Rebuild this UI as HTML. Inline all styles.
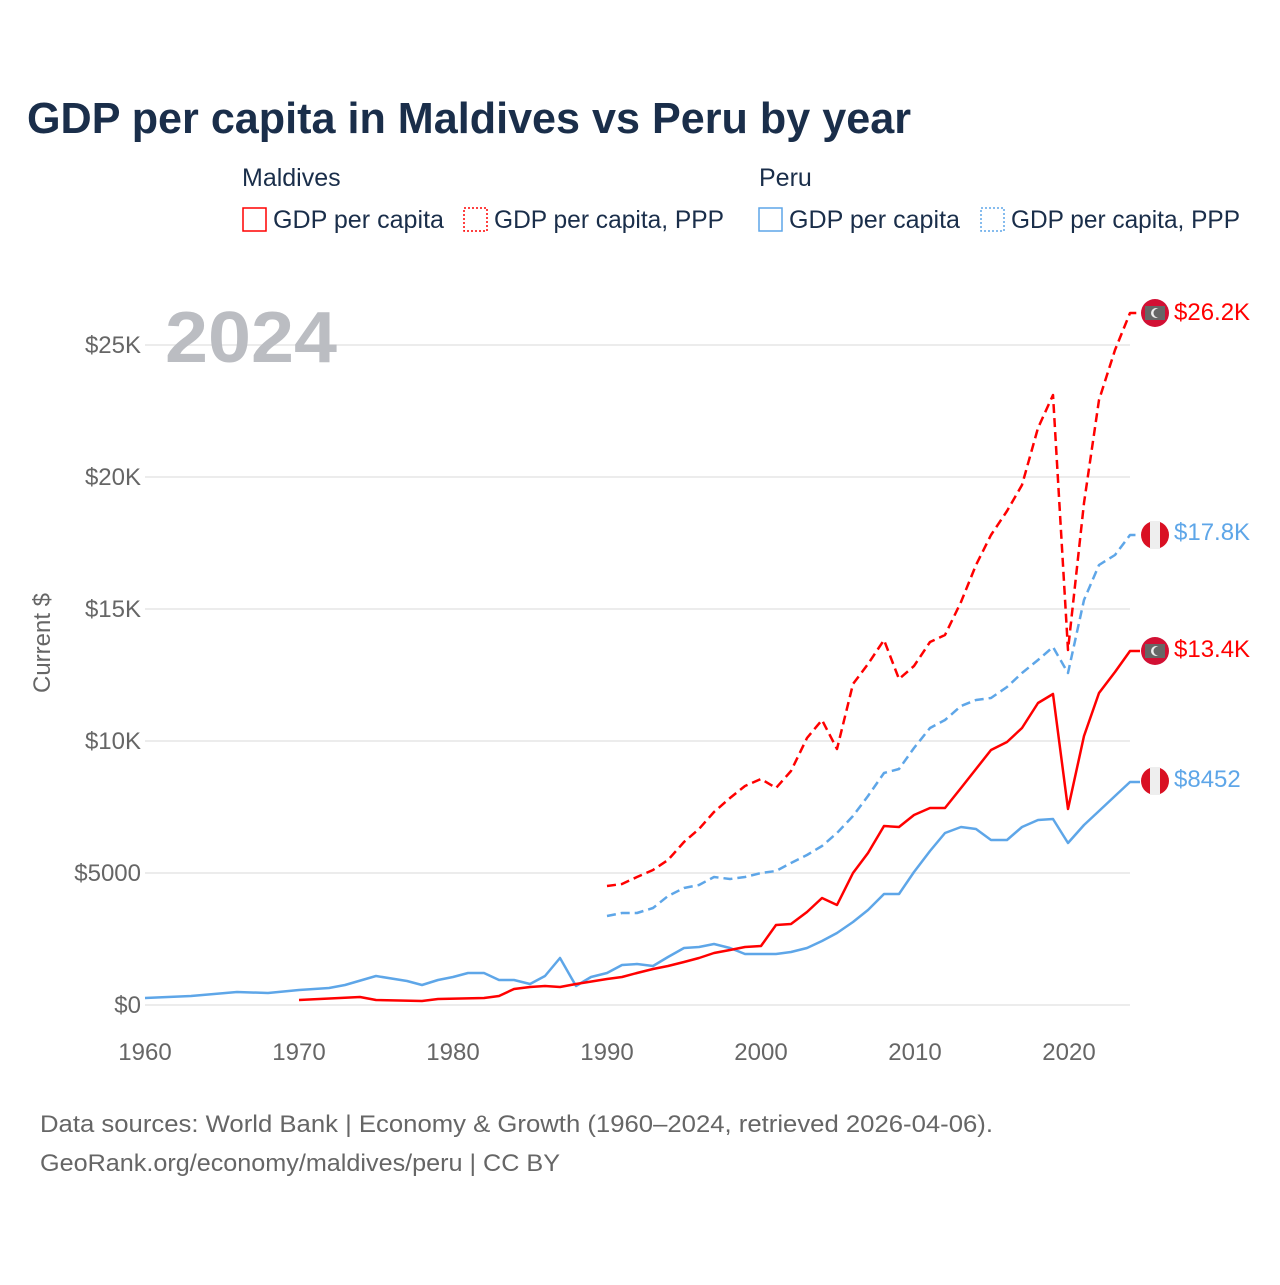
<!DOCTYPE html>
<html><head><meta charset="utf-8"><style>
body{margin:0;background:#fff;font-family:"Liberation Sans",sans-serif}
</style></head><body>
<svg width="1280" height="1280" xmlns="http://www.w3.org/2000/svg" font-family="Liberation Sans, sans-serif">
<rect width="1280" height="1280" fill="#fff"/>
<text x="27" y="133" font-size="44" font-weight="bold" fill="#1a2e4a" textLength="884" lengthAdjust="spacingAndGlyphs">GDP per capita in Maldives vs Peru by year</text>
<g font-size="25" fill="#1a2e4a">
<text x="242" y="186">Maldives</text><text x="759" y="186">Peru</text>
<rect x="243" y="208" width="23" height="23" fill="none" stroke="#f00" stroke-width="1.5"/><text x="273" y="228" textLength="171" lengthAdjust="spacingAndGlyphs">GDP per capita</text>
<rect x="464" y="208" width="23" height="23" fill="none" stroke="#f00" stroke-width="1.5" stroke-dasharray="2,2"/><text x="494" y="228" textLength="230" lengthAdjust="spacingAndGlyphs">GDP per capita, PPP</text>
<rect x="759" y="208" width="23" height="23" fill="none" stroke="#5ea6e8" stroke-width="1.5"/><text x="789" y="228" textLength="171" lengthAdjust="spacingAndGlyphs">GDP per capita</text>
<rect x="981" y="208" width="23" height="23" fill="none" stroke="#5ea6e8" stroke-width="1.5" stroke-dasharray="2,2"/><text x="1011" y="228" textLength="229" lengthAdjust="spacingAndGlyphs">GDP per capita, PPP</text>
</g>
<g stroke="#e6e6e6" stroke-width="1.5">
<line x1="145" x2="1130" y1="345" y2="345"/><line x1="145" x2="1130" y1="477" y2="477"/><line x1="145" x2="1130" y1="609" y2="609"/><line x1="145" x2="1130" y1="741" y2="741"/><line x1="145" x2="1130" y1="873" y2="873"/><line x1="145" x2="1130" y1="1005" y2="1005"/>
</g>
<g font-size="24" fill="#666" text-anchor="end">
<text x="141" y="353">$25K</text><text x="141" y="485">$20K</text><text x="141" y="617">$15K</text><text x="141" y="749">$10K</text><text x="141" y="881">$5000</text><text x="141" y="1013">$0</text>
</g>
<g font-size="24" fill="#666" text-anchor="middle">
<text x="145" y="1060">1960</text><text x="299" y="1060">1970</text><text x="453" y="1060">1980</text><text x="607" y="1060">1990</text><text x="761" y="1060">2000</text><text x="915" y="1060">2010</text><text x="1069" y="1060">2020</text>
</g>
<text transform="translate(50,643) rotate(-90)" font-size="24" fill="#666" text-anchor="middle">Current $</text>
<text x="165" y="362" font-size="72" font-weight="bold" fill="#bbbdc2" textLength="172" lengthAdjust="spacingAndGlyphs">2024</text>
<g fill="none" stroke-width="2.5" stroke-linejoin="round">
<polyline stroke="#5ea6e8" points="145,998 191,996 237,992 268,993 299,990 329,988 345,985 376,976 407,981 422,985 438,980 453,977 468,973 484,973 499,980 514,980 530,984 545,976 560,958 576,986 591,977 607,973 622,965 637,964 653,966 668,957 684,948 699,947 714,944 730,948 745,954 761,954 776,954 791,952 807,948 822,941 837,933 853,922 868,910 884,894 899,894 914,872 930,851 945,833 961,827 976,829 991,840 1007,840 1022,827 1038,820 1053,819 1068,843 1084,825 1099,811 1115,796 1130,782 1140,782"/>
<polyline stroke="#f00" points="299,1000 360,997 376,1000 422,1001 438,999 484,998 499,996 514,989 530,987 545,986 560,987 576,984 607,979 622,977 637,973 653,969 668,966 684,962 699,958 714,953 730,950 745,947 761,946 776,925 791,924 807,912 822,898 837,905 853,873 868,853 884,826 899,827 914,815 930,808 945,808 961,788 976,769 991,750 1007,742 1022,728 1038,703 1053,694 1068,809 1084,736 1099,693 1115,672 1130,651 1140,651"/>
<polyline stroke="#f00" stroke-dasharray="9,5" points="607,886 622,884 637,877 653,870 668,860 684,842 699,829 714,812 730,798 745,786 761,779 776,788 791,771 807,738 822,720 837,749 853,684 868,664 884,640 899,679 914,666 930,642 945,635 961,602 976,565 991,535 1007,511 1022,485 1038,428 1053,395 1068,650 1084,503 1099,400 1115,350 1130,313 1140,313"/>
<polyline stroke="#5ea6e8" stroke-dasharray="9,5" points="607,916 622,913 637,913 653,908 668,896 684,888 699,885 714,877 730,879 745,877 761,873 776,871 791,863 807,855 822,846 837,833 853,816 868,796 884,773 899,769 914,748 930,728 945,720 961,706 976,700 991,698 1007,687 1022,673 1038,660 1053,647 1068,673 1084,600 1099,565 1115,555 1130,535 1140,535"/>
</g>
<g>
<circle cx="1155" cy="313" r="14" fill="#d21034"/><rect x="1145" y="306" width="20" height="14" fill="#666"/><circle cx="1156" cy="313" r="5" fill="#eee"/><circle cx="1158" cy="313" r="4.5" fill="#666"/>
<circle cx="1155" cy="651" r="14" fill="#d21034"/><rect x="1145" y="644" width="20" height="14" fill="#666"/><circle cx="1156" cy="651" r="5" fill="#eee"/><circle cx="1158" cy="651" r="4.5" fill="#666"/>
<circle cx="1155" cy="535" r="14" fill="#d91023"/><rect x="1150" y="521" width="10" height="28" fill="#eee"/>
<circle cx="1155" cy="781" r="14" fill="#d91023"/><rect x="1150" y="767" width="10" height="28" fill="#eee"/>
</g>
<g font-size="24">
<text x="1174" y="320" fill="#f00">$26.2K</text>
<text x="1174" y="540" fill="#5ea6e8">$17.8K</text>
<text x="1174" y="657" fill="#f00">$13.4K</text>
<text x="1174" y="787" fill="#5ea6e8">$8452</text>
</g>
<g font-size="24" fill="#666">
<text x="40" y="1132" textLength="953" lengthAdjust="spacingAndGlyphs">Data sources: World Bank | Economy &amp; Growth (1960–2024, retrieved 2026-04-06).</text>
<text x="40" y="1171" textLength="520" lengthAdjust="spacingAndGlyphs">GeoRank.org/economy/maldives/peru | CC BY</text>
</g>
</svg>
</body></html>
